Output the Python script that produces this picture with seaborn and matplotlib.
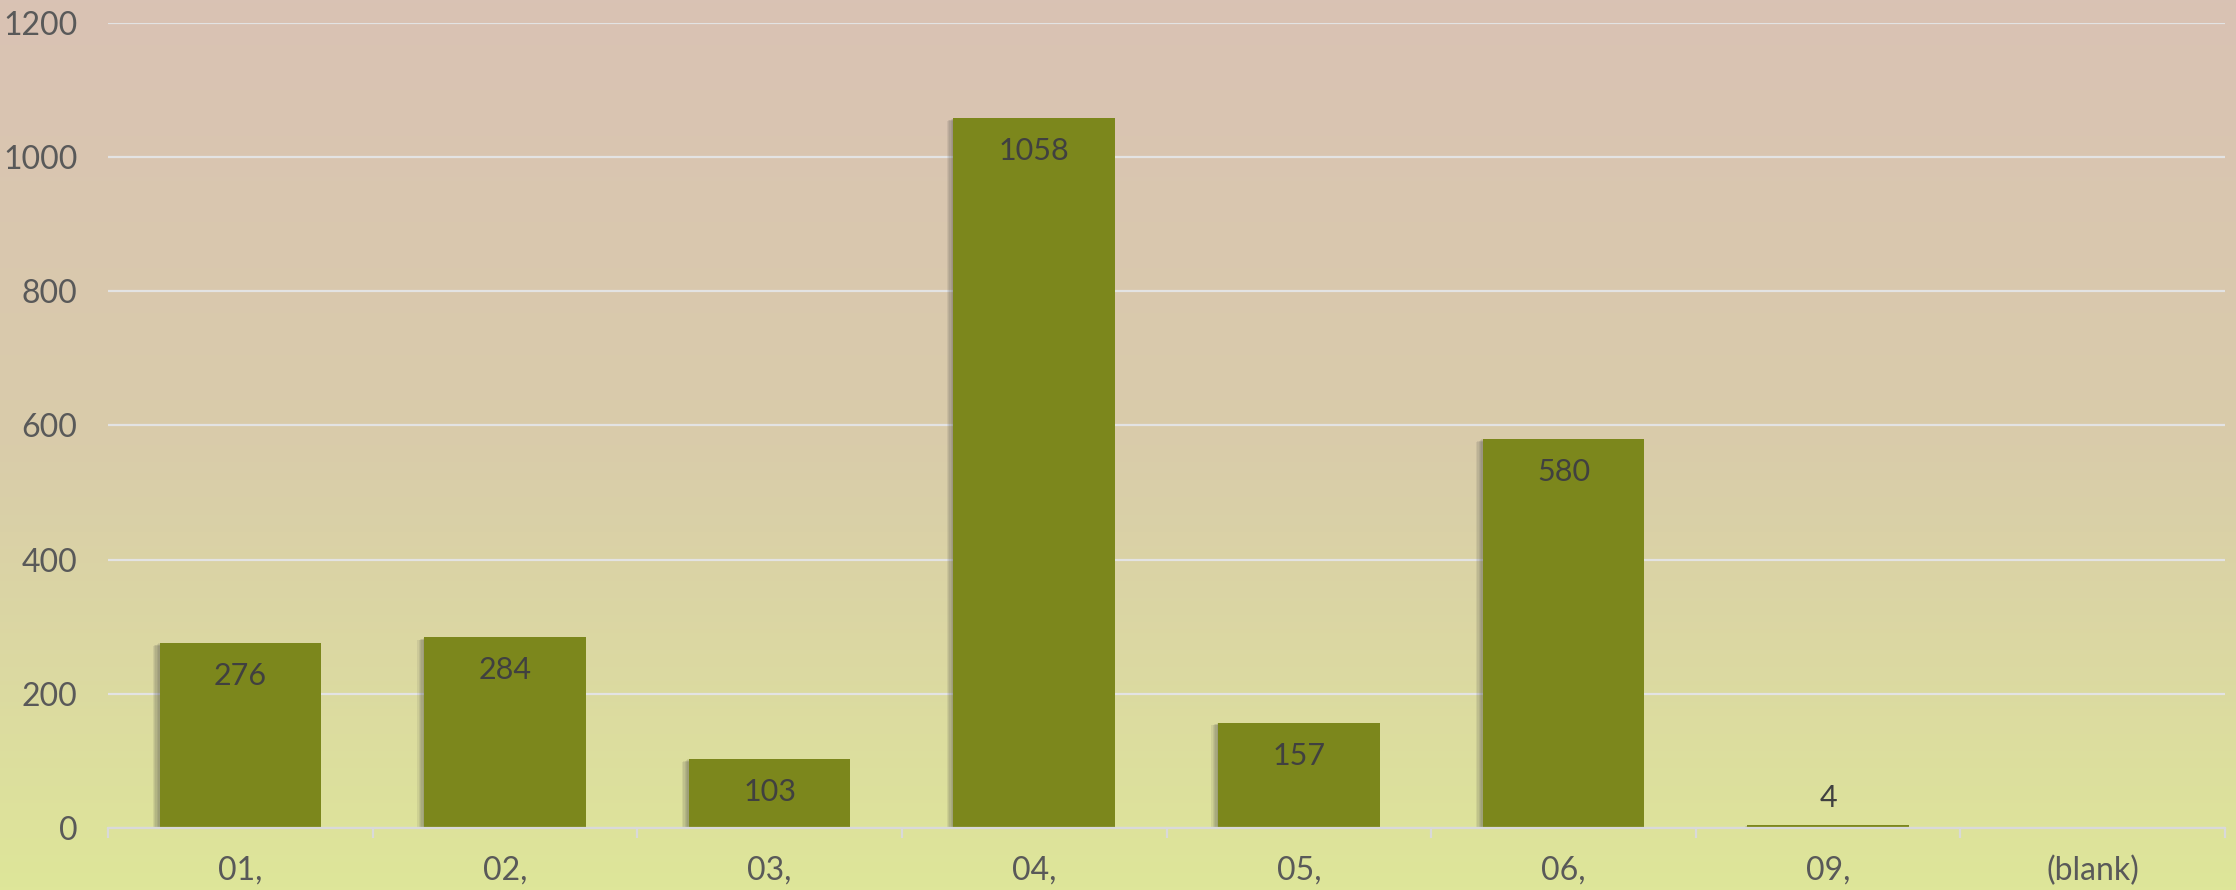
import numpy as np
import pandas as pd
import matplotlib
matplotlib.use("Agg")
import matplotlib.pyplot as plt
import matplotlib.patheffects as pe
from matplotlib.colors import LinearSegmentedColormap
import seaborn as sns

categories = ["01,", "02,", "03,", "04,", "05,", "06,", "09,", "(blank)"]
values = [276, 284, 103, 1058, 157, 580, 4, np.nan]
yticks = [0, 200, 400, 600, 800, 1000, 1200]

sns.set_theme(style="white")
plt.rcParams['font.family'] = ['Lato', 'DejaVu Sans']

W, H, DPI = 2236, 890, 100
fig = plt.figure(figsize=(W / DPI, H / DPI), dpi=DPI)

# gradient background
bg = fig.add_axes([0, 0, 1, 1], zorder=-10)
cmap = LinearSegmentedColormap.from_list("bg", ["#D9C2B4", "#D9CCAA", "#DEE699"])
grad = np.linspace(0, 1, 256).reshape(-1, 1)
bg.imshow(grad, aspect="auto", cmap=cmap, extent=[0, 1, 0, 1], origin="upper")
bg.set_axis_off()

ax = fig.add_axes([108 / W, 1 - 828 / H, (2225 - 108) / W, (828 - 23) / H])
ax.patch.set_alpha(0)

df = pd.DataFrame({"cat": categories, "val": values})
sns.barplot(data=df, x="cat", y="val", order=categories, color="#7C871C",
            saturation=1, width=0.61, ax=ax, zorder=3)

shadow = [pe.SimplePatchShadow(offset=(-k, -k * 0.4), shadow_rgbFace="#4A4A4A", alpha=0.10)
          for k in (1.0, 2.0, 3.0, 4.0, 5.0)] + [pe.Normal()]
for p in ax.patches:
    p.set_path_effects(shadow)
    p.set_edgecolor("none")

ax.set_ylim(0, 1200)
ax.set_xlim(-0.5, len(categories) - 0.5)
ax.set_yticks(yticks)
ax.set_yticklabels([str(t) for t in yticks])
ax.yaxis.grid(True, color="#E3E3E3", linewidth=1.6, zorder=0)
ax.set_axisbelow(True)
for s in ["left", "right", "top"]:
    ax.spines[s].set_visible(False)
ax.spines["bottom"].set_color("#D9D9D9")
ax.spines["bottom"].set_linewidth(1.6)
ax.spines["bottom"].set_zorder(4)

ax.set_xlabel("")
ax.set_ylabel("")
ax.tick_params(axis="y", length=0, pad=22, labelsize=23, labelcolor="#595959")
ax.tick_params(axis="x", which="major", length=0, pad=20, labelsize=23, labelcolor="#595959")
ax.set_xticks(np.arange(-0.5, len(categories), 1.0), minor=True)
ax.tick_params(axis="x", which="minor", length=7, width=1.6, color="#D9D9D9", bottom=True)

for i, v in enumerate(values):
    if np.isnan(v):
        continue
    if v > 50:
        ax.annotate(str(int(v)), (i, v), xytext=(0, -33 * 0.72), textcoords="offset points",
                    ha="center", va="center", fontsize=22, color="#404040", zorder=5)
    else:
        ax.annotate(str(int(v)), (i, v), xytext=(0, 27 * 0.72), textcoords="offset points",
                    ha="center", va="center", fontsize=22, color="#404040", zorder=5)

fig.savefig("out.png", dpi=DPI)
